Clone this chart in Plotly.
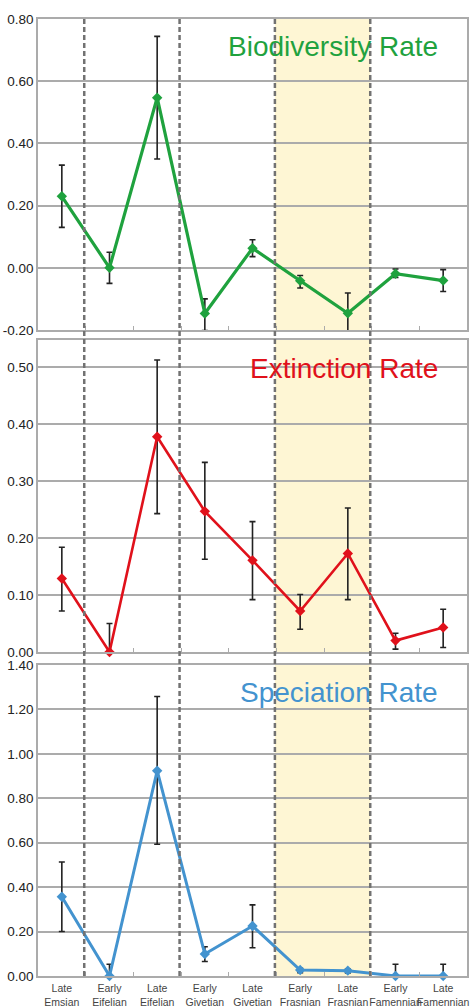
import plotly.graph_objects as go

categories = ["Late Emsian", "Early Eifelian", "Late Eifelian", "Early Givetian", "Late Givetian",
              "Early Frasnian", "Late Frasnian", "Early Famennian", "Late Famennian"]

biodiv = [0.23, 0.0, 0.547, -0.147, 0.063, -0.042, -0.146, -0.019, -0.041]
biodiv_up = [0.10, 0.05, 0.197, 0.047, 0.027, 0.017, 0.065, 0.015, 0.035]
biodiv_lo = [0.10, 0.05, 0.197, 0.055, 0.027, 0.023, 0.069, 0.012, 0.035]

extinct = [0.129, 0.0, 0.378, 0.247, 0.161, 0.072, 0.173, 0.020, 0.043]
extinct_up = [0.055, 0.05, 0.135, 0.086, 0.068, 0.029, 0.080, 0.013, 0.032]
extinct_lo = [0.057, 0.0, 0.135, 0.084, 0.069, 0.032, 0.081, 0.015, 0.035]

spec = [0.357, 0.0, 0.924, 0.099, 0.225, 0.027, 0.024, 0.0, 0.0]
spec_up = [0.156, 0.053, 0.334, 0.033, 0.095, 0.008, 0.007, 0.053, 0.053]
spec_lo = [0.157, 0.0, 0.331, 0.034, 0.098, 0.012, 0.010, 0.0, 0.0]

panel_titles = ["Biodiversity Rate", "Extinction Rate", "Speciation Rate"]
colors = ["#1fa23e", "#e0111b", "#4393cf"]
y_ranges = [[-0.2, 0.8], [0, 0.548], [0, 1.4]]
y_ticks = [[-0.2, 0, 0.2, 0.4, 0.6, 0.8], [0, 0.1, 0.2, 0.3, 0.4, 0.5],
           [0, 0.2, 0.4, 0.6, 0.8, 1.0, 1.2, 1.4]]
boundaries = [0.47, 2.47, 4.47, 6.47]
band = [4.47, 6.47]

series = [(biodiv, biodiv_up, biodiv_lo), (extinct, extinct_up, extinct_lo), (spec, spec_up, spec_lo)]
line_widths = [3.2, 2.6, 3.0]

W, H = 473, 1008
ml, mr, mt, mb = 38, 6, 19, 32
plot_h = H - mt - mb
def frac(px_top, px_bot):
    return [(H - mb - px_bot) / plot_h, (H - mb - px_top) / plot_h]
domains = [frac(19, 330), frac(340, 652), frac(665, 976)]

fig = go.Figure()
grid = "#ababab"
for i, ((vals, up, lo), col) in enumerate(zip(series, colors)):
    sfx = "" if i == 0 else str(i + 1)
    fig.add_trace(go.Scatter(
        x=categories, y=vals, mode="lines+markers",
        line=dict(color=col, width=line_widths[i]),
        marker=dict(symbol="diamond", size=8, color=col),
        error_y=dict(type="data", symmetric=False, array=up, arrayminus=lo,
                     color="#222222", thickness=1.6, width=3),
        cliponaxis=False, showlegend=False,
        xaxis="x" + sfx, yaxis="y" + sfx))
    fig.update_layout(**{
        "xaxis" + sfx: dict(
            domain=[0, 1], anchor="y" + sfx, type="category",
            categoryorder="array", categoryarray=categories, range=[-0.5, 8.5],
            tickvals=categories,
            ticktext=[c.replace(" ", "<br>") for c in categories],
            showticklabels=(i == 2), tickangle=0, automargin=False,
            ticklabelstandoff=2,
            tickson="boundaries", ticks="inside",
            ticklen=4, tickcolor=grid, tickwidth=1.2,
            showgrid=False, showline=True, linecolor=grid, linewidth=1.5, mirror=True,
            tickfont=dict(family="Liberation Sans, Arial", size=10.5, color="#444444"),
            zeroline=False, fixedrange=True),
        "yaxis" + sfx: dict(
            domain=domains[i], anchor="x" + sfx, range=y_ranges[i],
            tickvals=y_ticks[i], ticktext=[f"{v:.2f}" for v in y_ticks[i]],
            automargin=False,
            showgrid=True, gridcolor=grid, gridwidth=1.5,
            zeroline=(i == 0), zerolinecolor=grid, zerolinewidth=1.5,
            showline=True, linecolor=grid, linewidth=1.5, mirror=True,
            ticks="", tickfont=dict(family="Liberation Sans, Arial", size=13.5, color="#222222"),
            fixedrange=True),
    })
    fig.add_shape(type="rect", xref="x" + sfx, yref="y" + sfx + " domain",
                  x0=band[0], x1=band[1], y0=0, y1=1,
                  fillcolor="#fef6d4", line=dict(width=0), layer="below")
    fig.add_annotation(text=panel_titles[i], xref="x" + sfx + " domain", yref="y" + sfx + " domain",
                       x=0.937, y=0.91, xanchor="right", yanchor="middle", showarrow=False,
                       font=dict(family="Liberation Sans, Arial", size=28, color=col))

for b in boundaries:
    fig.add_shape(type="line", xref="x", yref="paper", x0=b, x1=b, y0=0, y1=1,
                  line=dict(color="#727272", width=2.5, dash="5px,3px"), layer="above")

fig.update_layout(width=W, height=H, margin=dict(l=ml, r=mr, t=mt, b=mb),
                  paper_bgcolor="white", plot_bgcolor="white")
fig.write_html("out.html")
